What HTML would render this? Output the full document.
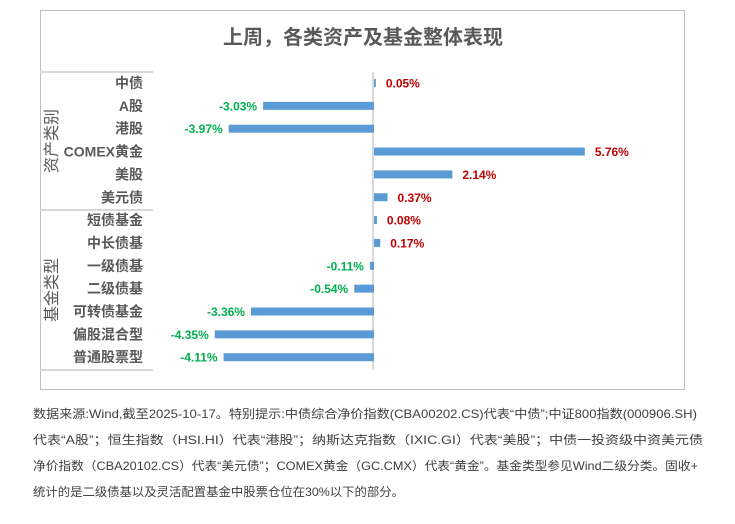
<!DOCTYPE html>
<html><head><meta charset="utf-8"><style>
body{margin:0;background:#fff;width:735px;height:519px;overflow:hidden}
svg text{font-family:"Liberation Sans","Noto Sans CJK SC",sans-serif}
</style></head><body>
<svg id="c" width="735" height="519" xmlns="http://www.w3.org/2000/svg">
<rect x="40.5" y="10.5" width="644" height="379" fill="#fff" stroke="#bfbfbf"/>
<text x="363" y="44" text-anchor="middle" font-size="20" font-weight="bold" fill="#595959">上周，各类资产及基金整体表现</text>
<line x1="40" y1="72" x2="153" y2="72" stroke="#d9d9d9" stroke-width="2"/>
<line x1="40" y1="210" x2="153" y2="210" stroke="#d9d9d9" stroke-width="2"/>
<line x1="40" y1="370" x2="153" y2="370" stroke="#d9d9d9" stroke-width="2"/>
<text transform="translate(57,141) rotate(-90)" text-anchor="middle" font-size="16" fill="#595959">资产类别</text>
<text transform="translate(57,290) rotate(-90)" text-anchor="middle" font-size="16" fill="#595959">基金类型</text>
<line x1="373" y1="72" x2="373" y2="370" stroke="#d9d9d9" stroke-width="2"/>
<g id="bars"></g>
<g font-size="12" fill="#404040">
<text x="33" y="418" textLength="664" lengthAdjust="spacingAndGlyphs">数据来源:Wind,截至2025-10-17。特别提示:中债综合净价指数(CBA00202.CS)代表“中债”;中证800指数(000906.SH)</text>
<text x="33" y="444" textLength="670" lengthAdjust="spacingAndGlyphs">代表“A股”；恒生指数（HSI.HI）代表“港股”；纳斯达克指数（IXIC.GI）代表“美股”；中债一投资级中资美元债</text>
<text x="33" y="470" textLength="665" lengthAdjust="spacingAndGlyphs">净价指数（CBA20102.CS）代表“美元债”；COMEX黄金（GC.CMX）代表“黄金”。基金类型参见Wind二级分类。固收+</text>
<text x="33" y="496" textLength="371" lengthAdjust="spacingAndGlyphs">统计的是二级债基以及灵活配置基金中股票仓位在30%以下的部分。</text>
</g>
</svg>
<script>
const categories=["中债","A股","港股","COMEX黄金","美股","美元债","短债基金","中长债基","一级债基","二级债基","可转债基金","偏股混合型","普通股票型"];
const values=[0.05,-3.03,-3.97,5.76,2.14,0.37,0.08,0.17,-0.11,-0.54,-3.36,-4.35,-4.11];
const x0=374,scale=36.6,rowY0=83,rowStep=22.85;
const xs=v=>x0+v*scale;
const ys=i=>rowY0+i*rowStep;
const g=document.getElementById('bars');
const NS="http://www.w3.org/2000/svg";
categories.forEach((c,i)=>{
  const v=values[i],y=ys(i);
  const t=document.createElementNS(NS,'text');
  t.setAttribute('x',143);t.setAttribute('y',y+5);t.setAttribute('text-anchor','end');
  t.setAttribute('font-size','14');t.setAttribute('font-weight','bold');t.setAttribute('fill','#595959');
  t.textContent=c;
  
  
  g.appendChild(t);
  const r=document.createElementNS(NS,'rect');
  const a=Math.min(xs(0),xs(v)),w=Math.max(Math.abs(xs(v)-xs(0)),1.5);
  r.setAttribute('x',a);r.setAttribute('y',y-4);r.setAttribute('width',w);r.setAttribute('height',8);
  r.setAttribute('fill','#5b9bd5');
  
  
  g.appendChild(r);
  const l=document.createElementNS(NS,'text');
  const pos=v>=0;
  l.setAttribute('x',pos?xs(v)+10:xs(v)-6);l.setAttribute('y',y+4.5);
  l.setAttribute('text-anchor',pos?'start':'end');
  l.setAttribute('font-size','12');l.setAttribute('font-weight','bold');
  l.setAttribute('fill',pos?'#c00000':'#00b050');
  l.textContent=v.toFixed(2)+'%';
  
  
  g.appendChild(l);
});
</script>
</body></html>
